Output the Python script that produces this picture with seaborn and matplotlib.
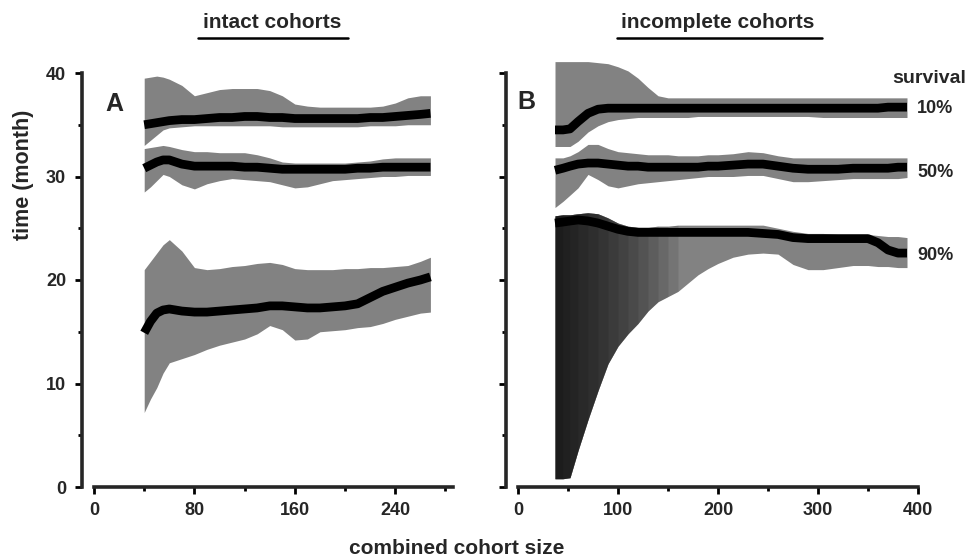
import numpy as np
import pandas as pd
import matplotlib
matplotlib.use("Agg")
import matplotlib.pyplot as plt
import seaborn as sns
from matplotlib.ticker import MultipleLocator

# ---------------- data ----------------
xA = [40, 45, 50, 55, 60, 70, 80, 90, 100, 110, 120, 130, 140, 150, 160, 170,
      180, 190, 200, 210, 220, 230, 240, 250, 260, 268]
A10_med = [35.0, 35.1, 35.2, 35.3, 35.4, 35.5, 35.5, 35.6, 35.7, 35.7, 35.8, 35.8, 35.7,
           35.7, 35.6, 35.6, 35.6, 35.6, 35.6, 35.6, 35.7, 35.7, 35.8, 35.9, 36.0, 36.1]
A10_up = [39.5, 39.6, 39.7, 39.6, 39.4, 38.8, 37.8, 38.1, 38.4, 38.5, 38.5, 38.5, 38.3,
          37.8, 37.0, 36.8, 36.7, 36.7, 36.7, 36.7, 36.7, 36.8, 37.1, 37.6, 37.8, 37.8]
A10_lo = [33.0, 33.5, 34.0, 34.5, 34.7, 34.8, 34.9, 34.9, 34.9, 34.9, 34.9, 34.9, 34.9,
          34.8, 34.8, 34.8, 34.8, 34.8, 34.8, 34.8, 34.9, 34.9, 34.9, 35.0, 35.0, 35.0]
A50_med = [30.8, 31.1, 31.4, 31.6, 31.6, 31.2, 31.0, 31.0, 31.0, 31.0, 30.9, 30.9, 30.8,
           30.7, 30.7, 30.7, 30.7, 30.7, 30.7, 30.8, 30.8, 30.9, 30.9, 30.9, 30.9, 30.9]
A50_up = [32.7, 32.8, 32.9, 33.0, 32.9, 32.6, 32.4, 32.4, 32.3, 32.3, 32.3, 32.1, 31.8,
          31.4, 31.3, 31.3, 31.3, 31.3, 31.3, 31.4, 31.5, 31.7, 31.8, 31.8, 31.8, 31.8]
A50_lo = [28.5, 29.0, 29.6, 30.2, 30.0, 29.2, 28.8, 29.3, 29.6, 29.8, 29.7, 29.6, 29.5,
          29.2, 28.9, 29.0, 29.3, 29.6, 29.7, 29.8, 29.9, 30.0, 30.0, 30.1, 30.1, 30.1]
A90_med = [14.9, 16.0, 16.8, 17.1, 17.2, 17.0, 16.9, 16.9, 17.0, 17.1, 17.2, 17.3, 17.5,
           17.5, 17.4, 17.3, 17.3, 17.4, 17.5, 17.7, 18.3, 18.9, 19.3, 19.7, 20.0, 20.3]
A90_up = [21.0, 21.8, 22.6, 23.4, 23.9, 22.8, 21.2, 21.0, 21.1, 21.3, 21.4, 21.6, 21.7,
          21.5, 21.1, 21.0, 21.0, 21.0, 21.1, 21.1, 21.2, 21.2, 21.3, 21.4, 21.8, 22.2]
A90_lo = [7.2, 8.5, 9.6, 11.0, 12.0, 12.4, 12.8, 13.3, 13.7, 14.0, 14.3, 14.8, 15.6,
          15.2, 14.2, 14.3, 15.0, 15.1, 15.2, 15.4, 15.5, 15.8, 16.2, 16.5, 16.8, 16.9]

xB = [37, 45, 52, 60, 70, 80, 90, 100, 110, 120, 130, 140, 150, 160, 170, 180, 190,
      200, 215, 230, 245, 260, 275, 290, 305, 320, 335, 350, 360, 370, 380, 389]
B10_med = [34.5, 34.5, 34.6, 35.3, 36.1, 36.5, 36.6, 36.6, 36.6, 36.6, 36.6, 36.6, 36.6,
           36.6, 36.6, 36.6, 36.6, 36.6, 36.6, 36.6, 36.6, 36.6, 36.6, 36.6, 36.6, 36.6,
           36.6, 36.6, 36.6, 36.7, 36.7, 36.7]
B10_up = [41.1, 41.1, 41.1, 41.1, 41.1, 41.0, 40.9, 40.6, 40.2, 39.5, 38.6, 37.8, 37.6,
          37.6, 37.6, 37.6, 37.6, 37.6, 37.6, 37.6, 37.6, 37.6, 37.6, 37.6, 37.6, 37.6,
          37.6, 37.6, 37.6, 37.6, 37.6, 37.6]
B10_lo = [32.9, 32.9, 32.9, 33.4, 34.3, 34.9, 35.3, 35.5, 35.6, 35.7, 35.7, 35.7, 35.7,
          35.7, 35.7, 35.8, 35.8, 35.8, 35.8, 35.8, 35.8, 35.8, 35.8, 35.8, 35.7, 35.7,
          35.7, 35.7, 35.7, 35.7, 35.7, 35.7]
B50_med = [30.6, 30.8, 31.0, 31.2, 31.3, 31.3, 31.2, 31.1, 31.0, 31.0, 30.9, 30.9, 30.9,
           30.9, 30.9, 30.9, 31.0, 31.0, 31.1, 31.2, 31.2, 31.0, 30.8, 30.7, 30.7, 30.7,
           30.8, 30.8, 30.8, 30.8, 30.9, 30.9]
B50_up = [31.8, 31.8, 32.0, 32.4, 33.1, 33.1, 32.7, 32.4, 32.3, 32.2, 32.1, 32.1, 32.1,
          32.0, 32.0, 32.0, 32.1, 32.1, 32.2, 32.4, 32.3, 32.0, 31.8, 31.8, 31.8, 31.8,
          31.8, 31.8, 31.8, 31.8, 31.8, 31.8]
B50_lo = [27.0, 27.6, 28.2, 28.9, 30.2, 29.7, 29.1, 28.9, 29.1, 29.3, 29.4, 29.5, 29.6,
          29.7, 29.8, 29.9, 30.0, 30.0, 30.0, 30.1, 30.1, 29.8, 29.5, 29.5, 29.6, 29.7,
          29.8, 29.8, 29.8, 29.8, 29.8, 29.9]
B90_med = [25.5, 25.6, 25.7, 25.8, 25.7, 25.5, 25.2, 24.9, 24.7, 24.6, 24.6, 24.6, 24.6,
           24.6, 24.6, 24.6, 24.6, 24.6, 24.6, 24.6, 24.5, 24.4, 24.1, 24.0, 24.0, 24.0,
           24.0, 24.0, 23.6, 22.9, 22.6, 22.6]
B90_up = [26.2, 26.3, 26.3, 26.4, 26.5, 26.4, 26.0, 25.5, 25.2, 25.1, 25.1, 25.2, 25.2,
          25.3, 25.3, 25.3, 25.3, 25.3, 25.3, 25.3, 25.3, 25.0, 24.7, 24.5, 24.5, 24.4,
          24.4, 24.4, 24.3, 24.2, 24.2, 24.1]
B90_lo = [0.8, 0.8, 0.9, 3.5, 6.5, 9.3, 11.9, 13.6, 14.8, 15.8, 17.0, 17.9, 18.4, 18.9,
          19.7, 20.5, 21.1, 21.6, 22.2, 22.5, 22.6, 22.5, 21.5, 21.0, 21.0, 21.2, 21.4,
          21.4, 21.3, 21.3, 21.2, 21.2]

survival_labels = ["10%", "50%", "90%"]
label_y = [36.6, 30.4, 22.4]
titles = ["intact cohorts", "incomplete cohorts"]
panel_letters = ["A", "B"]
xticksA = [0, 80, 160, 240]
xticksB = [0, 100, 200, 300, 400]
yticks = [0, 10, 20, 30, 40]

# ---------------- style ----------------
sns.set_style("ticks")
plt.rcParams["font.family"] = ["Liberation Sans", "DejaVu Sans"]
plt.rcParams["font.weight"] = "bold"

W, H = 973, 556
fig = plt.figure(figsize=(W / 100, H / 100), dpi=100)

def frac(x0, x1, y_top, y_bot):
    return [x0 / W, 1 - y_bot / H, (x1 - x0) / W, (y_bot - y_top) / H]

YMAX = 42.0
ytop_px = 487 - YMAX * 10.35
axA = fig.add_axes(frac(94, 453, ytop_px, 487))
axB = fig.add_axes(frac(518, 918, ytop_px, 487))

band_color = "#828282"

def draw(ax, x, series, dark_left=False):
    for med, up, lo in series:
        ax.fill_between(x, lo, up, color=band_color, lw=0, zorder=1)
    if dark_left:
        med, up, lo = series[-1]
        xa = np.array(x, dtype=float)
        # darker, denser shading toward the left edge of the lowest band
        for lim in [v for v in x if 45 <= v <= 160]:
            ax.fill_between(x, lo, up, where=xa <= lim, color="black", alpha=0.1,
                            lw=0, zorder=1)
    for med, up, lo in series:
        df = pd.DataFrame({"x": x, "y": med})
        sns.lineplot(data=df, x="x", y="y", ax=ax, color="black", lw=6.3,
                     zorder=3, solid_capstyle="butt")

draw(axA, xA, [(A10_med, A10_up, A10_lo), (A50_med, A50_up, A50_lo),
               (A90_med, A90_up, A90_lo)])
draw(axB, xB, [(B10_med, B10_up, B10_lo), (B50_med, B50_up, B50_lo),
               (B90_med, B90_up, B90_lo)], dark_left=True)

for ax, xt, xmax in [(axA, xticksA, 286), (axB, xticksB, 400)]:
    ax.set_xlim(0, xmax)
    ax.set_ylim(0, YMAX)
    ax.set_xlabel("")
    ax.set_ylabel("")
    ax.set_xticks(xt)
    ax.xaxis.set_minor_locator(MultipleLocator(xt[1] / 2))
    ax.set_yticks(yticks)
    ax.yaxis.set_minor_locator(MultipleLocator(5))
    ax.spines["top"].set_visible(False)
    ax.spines["right"].set_visible(False)
    ax.spines["left"].set_bounds(0, 40)
    ax.spines["left"].set_linewidth(2.6)
    ax.spines["bottom"].set_linewidth(2.6)
    ax.spines["left"].set_position(("outward", 9))
    ax.tick_params(axis="both", which="major", direction="out", length=5,
                   width=2, labelsize=13, pad=6, color="black")
    ax.tick_params(axis="both", which="minor", direction="out", length=3,
                   width=2, color="black")
    for lab in ax.get_xticklabels() + ax.get_yticklabels():
        lab.set_fontweight("bold")

axB.tick_params(axis="y", which="both", labelleft=False)

axA.text(16, 37.0, panel_letters[0], fontsize=18, fontweight="bold", ha="center", va="center")
axB.text(8, 37.2, panel_letters[1], fontsize=18, fontweight="bold", ha="center", va="center")

for lab, yv in zip(survival_labels, label_y):
    axB.text(399, yv, lab, fontsize=13, fontweight="bold", ha="left", va="center",
             clip_on=False)
axB.text(411, 39.5, "survival", fontsize=14, fontweight="bold", ha="center",
         va="center", clip_on=False)

# titles with underline
for cx, (x0, x1), t in [(272, (198, 348), titles[0]), (718, (617, 822), titles[1])]:
    fig.text(cx / W, 1 - 23 / H, t, fontsize=15, fontweight="bold",
             ha="center", va="center")
    fig.add_artist(plt.Line2D([x0 / W, x1 / W], [1 - 38 / H, 1 - 38 / H],
                              color="black", lw=1.8))

fig.text(457 / W, 1 - 548 / H, "combined cohort size", fontsize=15,
         fontweight="bold", ha="center", va="center")
fig.text(23 / W, 1 - 175 / H, "time (month)", fontsize=15.5, fontweight="bold",
         ha="center", va="center", rotation=90)

fig.savefig("out.png", dpi=100)
